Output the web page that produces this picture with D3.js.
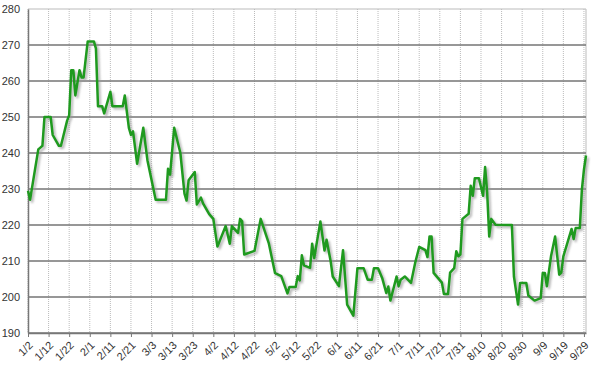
<!DOCTYPE html>
<html>
<head>
<meta charset="utf-8">
<script src="https://d3js.org/d3.v7.min.js"></script>
<style>
  body { margin: 0; background: #fff; }
  svg { display: block; font-family: Arial, "Liberation Sans", sans-serif; }
</style>
</head>
<body>
<svg width="600" height="371"></svg>
<script>
// dates (month/day) and values
const dates = ["1/2","1/3","1/7","1/8","1/9","1/10","1/13","1/14","1/17","1/18","1/21","1/22","1/23","1/24","1/25","1/27","1/28","1/29","1/31",
  "2/3","2/4","2/5","2/7","2/8","2/11","2/12","2/17","2/18","2/20","2/21","2/22","2/24","2/27",
  "3/1","3/5","3/10","3/11","3/12","3/14","3/17","3/19","3/20","3/21","3/24","3/25","3/27","3/28","3/31",
  "4/2","4/4","4/8","4/10","4/11","4/14","4/15","4/16","4/17","4/22","4/25","4/29",
  "5/1","5/2","5/5","5/6","5/8","5/9","5/12","5/13","5/14","5/15","5/16","5/19","5/20","5/21","5/24","5/26","5/27","5/29","5/30",
  "6/2","6/4","6/6","6/9","6/11","6/14","6/16","6/18","6/19","6/21","6/23","6/25","6/26","6/27","6/30",
  "7/1","7/2","7/4","7/7","7/9","7/11","7/14","7/15","7/16","7/17","7/18","7/22","7/23","7/25","7/26","7/28","7/29","7/30","7/31",
  "8/1","8/4","8/5","8/6","8/7","8/9","8/11","8/12","8/13","8/14","8/15","8/17","8/25","8/26","8/28","8/29",
  "9/1","9/2","9/5","9/8","9/9","9/10","9/11","9/13","9/15","9/17","9/18","9/19","9/23","9/24","9/25","9/27","9/28","9/29","9/30"];
const values = [229.5,227,241,241.5,242,250,250,245,242,242,249,250.5,263,263,256,263,261,261,271,
  271,269,253,253,251,257,253,253,256,247,245,246,237,247,
  238,227,227,235.6,234,247,240,228.7,226.8,232.4,234.7,225.7,227.6,226,223,
  221.7,214,219.7,214.8,219.7,217.8,221.7,221,211.8,212.8,221.7,214.8,
  209.3,206.6,205.8,204.2,201,202.8,202.8,205.8,204.6,211.6,208.8,208.1,214.8,210.8,221,212.9,215.9,209.9,205.7,
  203,213,197.9,194.8,208,208,204.8,204.8,208,208,205.3,201.1,202.9,199,205.7,
  203,204.8,205.7,203.9,209.4,213.9,213,211.1,216.8,216.8,206.7,204,200.8,200.8,206.8,208,212.7,211.3,211.8,
  221.7,223.1,230.9,228.1,233,233,228.1,236.1,229,216.8,221.7,220.1,220,205.7,197.9,203.9,
  203.9,200.4,199,199.7,206.7,206.7,203,211.3,216.8,206.2,206.8,211.3,218.9,216.1,219.2,219.2,229.8,235.4,239.3];
const tickLabels = ["1/2","1/12","1/22","2/1","2/11","2/21","3/3","3/13","3/23","4/2","4/12","4/22","5/2","5/12",
  "5/22","6/1","6/11","6/21","7/1","7/11","7/21","7/31","8/10","8/20","8/30","9/9","9/19","9/29"];
const yTicks = [190,200,210,220,230,240,250,260,270,280];

const svg = d3.select("svg");
const parse = s => d3.timeParse("%Y/%m/%d")("2015/" + s);
const data = dates.map((d, i) => ({date: parse(d), v: values[i]}));

const x = d3.scaleTime()
    .domain([parse("1/2"), parse("9/30")])
    .range([28, 586]);
const y = d3.scaleLinear().domain([190, 280]).range([333, 9]);

// shadow filter
const defs = svg.append("defs");
const f = defs.append("filter").attr("id", "shadow")
    .attr("x", "-5%").attr("y", "-5%").attr("width", "110%").attr("height", "110%");
f.append("feGaussianBlur").attr("stdDeviation", 1.2);

// vertical dotted grid
svg.append("g").selectAll("line")
  .data(tickLabels.map(parse))
  .join("line")
    .attr("x1", d => x(d)).attr("x2", d => x(d))
    .attr("y1", y(280)).attr("y2", y(190))
    .attr("stroke", "#bbb").attr("stroke-dasharray", "1,1");

// right border
svg.append("line")
    .attr("x1", 586).attr("x2", 586).attr("y1", y(280)).attr("y2", y(190))
    .attr("stroke", "#bbb");

// horizontal grid
svg.append("g").selectAll("line")
  .data(yTicks)
  .join("line")
    .attr("x1", 28).attr("x2", 586)
    .attr("y1", d => y(d)).attr("y2", d => y(d))
    .attr("stroke", d => d == 280 ? "#bbb" : "#747474")
    .attr("stroke-width", d => d == 280 ? 1 : 1.7);

// y axis
const yAxis = svg.append("g")
    .attr("transform", "translate(28,0)")
    .call(d3.axisLeft(y).tickValues(yTicks).tickSize(0).tickPadding(8));
yAxis.select(".domain").attr("stroke", "#777").attr("stroke-width", 1.5);
yAxis.selectAll("text").attr("font-size", 11).attr("fill", "#333");

// x axis
const xAxis = svg.append("g")
    .attr("transform", "translate(0," + y(190) + ")")
    .call(d3.axisBottom(x).tickValues(tickLabels.map(parse))
      .tickFormat(d3.timeFormat("%-m/%-d")).tickSize(4).tickSizeOuter(0));
xAxis.select(".domain").attr("stroke", "#777").attr("stroke-width", 1.5);
xAxis.selectAll(".tick line").attr("stroke", "#777");
xAxis.selectAll("text")
    .attr("font-size", 11).attr("fill", "#333")
    .attr("text-anchor", "end")
    .attr("dy", null).attr("y", 0)
    .attr("transform", "translate(5,13) rotate(-45)");

const line = d3.line().x(d => x(d.date)).y(d => y(d.v));

svg.append("path")
    .datum(data)
    .attr("d", line)
    .attr("fill", "none")
    .attr("stroke", "#999")
    .attr("stroke-width", 2.5)
    .attr("stroke-linejoin", "round")
    .attr("opacity", 0.7)
    .attr("transform", "translate(2,2)")
    .attr("filter", "url(#shadow)");

svg.append("path")
    .datum(data)
    .attr("d", line)
    .attr("fill", "none")
    .attr("stroke", "#1f9a1f")
    .attr("stroke-width", 2.5)
    .attr("stroke-linejoin", "round");
</script>
</body>
</html>
